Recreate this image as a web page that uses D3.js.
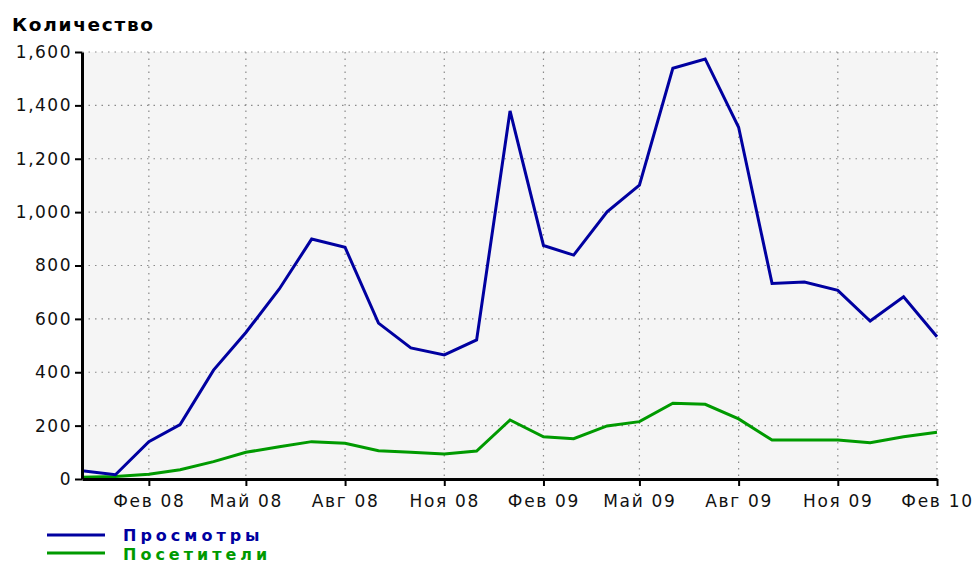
<!DOCTYPE html>
<html>
<head>
<meta charset="utf-8">
<script src="https://cdn.jsdelivr.net/npm/d3@7"></script>
<style>
  html, body { margin: 0; padding: 0; background: #ffffff; }
  svg { display: block; }
  text { font-family: "DejaVu Sans", Verdana, sans-serif; }
</style>
</head>
<body>
<svg id="chart" width="973" height="564"></svg>
<script>
// ---- data ----
const months = ["2007-12","2008-01","2008-02","2008-03","2008-04","2008-05","2008-06","2008-07","2008-08","2008-09","2008-10","2008-11","2008-12",
                "2009-01","2009-02","2009-03","2009-04","2009-05","2009-06","2009-07","2009-08","2009-09","2009-10","2009-11","2009-12",
                "2010-01","2010-02"];
const views    = [31, 16, 140, 204, 408, 549, 712, 899, 868, 584, 491, 465, 521,
                  1379, 875, 839, 1001, 1101, 1539, 1574, 1318, 733, 738, 707, 592, 683, 533];
const visitors = [7, 9, 18, 35, 65, 100, 121, 140, 134, 106, 100, 94, 105,
                  221, 158, 151, 199, 215, 284, 280, 225, 146, 146, 146, 136, 158, 175];
const xTickMonths = ["2008-02","2008-05","2008-08","2008-11","2009-02","2009-05","2009-08","2009-11","2010-02"];
const xTickLabels = ["Фев 08","Май 08","Авг 08","Ноя 08","Фев 09","Май 09","Авг 09","Ноя 09","Фев 10"];
const yTicks = [0, 200, 400, 600, 800, 1000, 1200, 1400, 1600];
const seriesNames = ["Просмотры", "Посетители"];
const seriesColors = ["#0000a0", "#009a00"];
const yTitle = "Количество";

// ---- chart ----
(function () {
const parse = d3.utcParse("%Y-%m");
const svg = d3.select("#chart");
const pLeft = 82, pRight = 937, pTop = 52, pBottom = 479;

const x = d3.scaleUtc().domain([parse("2007-12"), parse("2010-02")]).range([pLeft, pRight]);
const y = d3.scaleLinear().domain([0, 1600]).range([pBottom, pTop]);

// plot background
svg.append("rect").attr("x", pLeft).attr("y", pTop)
  .attr("width", pRight - pLeft).attr("height", pBottom - pTop).attr("fill", "#f5f5f5");

// grid
const grid = svg.append("g").attr("stroke", "#8a8a8a").attr("stroke-width", 1.2)
  .attr("stroke-dasharray", "1.5,5").attr("fill", "none");
yTicks.filter(v => v > 0).forEach(v => {
  grid.append("line").attr("x1", pLeft).attr("x2", pRight + 1).attr("y1", y(v)).attr("y2", y(v));
});
xTickMonths.forEach(m => {
  grid.append("line").attr("x1", x(parse(m))).attr("x2", x(parse(m))).attr("y1", pTop).attr("y2", pBottom);
});

// lines
const series = [views, visitors];
const line = d3.line().x((d, i) => x(parse(months[i]))).y(d => y(d));
series.slice().reverse().forEach((s, ri) => {
  const i = series.length - 1 - ri;
  svg.append("path").datum(s).attr("d", line).attr("fill", "none")
    .attr("stroke", seriesColors[i]).attr("stroke-width", 3).attr("stroke-linejoin", "miter");
});

// axes
const xAxis = d3.axisBottom(x)
  .tickValues(xTickMonths.map(parse))
  .tickFormat((d, i) => xTickLabels[i])
  .tickSize(7).tickSizeOuter(0).tickPadding(9);
const gx = svg.append("g").attr("transform", `translate(0,${pBottom})`).call(xAxis);
gx.select(".domain").attr("stroke", "#000").attr("stroke-width", 3);
gx.selectAll(".tick line").attr("stroke", "#000").attr("stroke-width", 2);
gx.selectAll("text").attr("fill", "#111").style("font-size", "17px").style("letter-spacing", "1.7px");

const yAxis = d3.axisLeft(y)
  .tickValues(yTicks)
  .tickFormat(d3.format(","))
  .tickSize(7).tickSizeOuter(0).tickPadding(3);
const gy = svg.append("g").attr("transform", `translate(${pLeft},0)`).call(yAxis);
gy.select(".domain").attr("stroke", "#000").attr("stroke-width", 3);
gy.selectAll(".tick line").attr("stroke", "#000").attr("stroke-width", 2);
gy.selectAll("text").attr("fill", "#111").style("font-size", "17px").style("letter-spacing", "1.5px");

// y title
svg.append("text").attr("x", 12).attr("y", 31).text(yTitle)
  .style("font-size", "18.5px").style("font-weight", "bold").style("letter-spacing", "1.7px").attr("fill", "#000");

// legend
seriesNames.forEach((name, i) => {
  const ly = 535 + i * 18;
  svg.append("line").attr("x1", 47).attr("x2", 105).attr("y1", ly).attr("y2", ly)
    .attr("stroke", seriesColors[i]).attr("stroke-width", 3);
  svg.append("text").attr("x", 123).attr("y", 541 + i * 19).text(name)
    .attr("fill", seriesColors[i]).style("font-size", "16px").style("font-weight", "bold")
    .style("letter-spacing", "4px");
});
})();
</script>
</body>
</html>
